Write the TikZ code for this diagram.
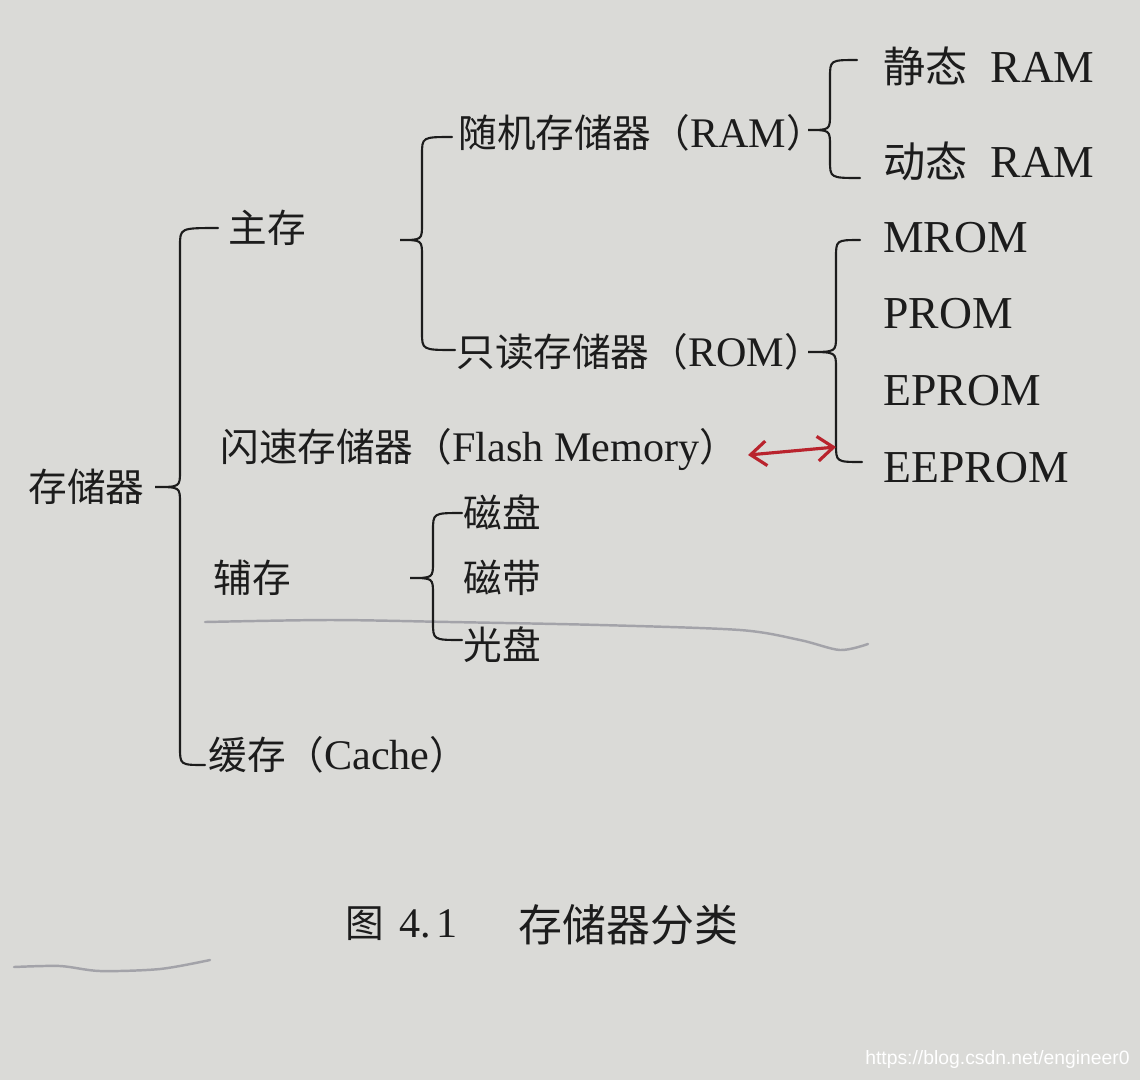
\documentclass[tikz,border=0pt]{standalone}
\usepackage{fontspec}
\setmainfont{Liberation Serif}
\newfontfamily\cjk{Noto Sans CJK SC}
\newfontfamily\wmfont{Liberation Sans}
\usetikzlibrary{arrows.meta}
\definecolor{paper}{RGB}{218,218,215}
\definecolor{ink}{RGB}{28,28,28}
\definecolor{redpen}{RGB}{185,35,45}
\definecolor{pencil}{RGB}{150,150,158}
\newcommand\zh[1]{{\cjk\fontsize{22}{24}\selectfont #1}}
\newcommand\zhb[1]{{\cjk\fontsize{24}{26}\selectfont #1}}
\newcommand\zhc[1]{{\cjk\fontsize{25}{27}\selectfont #1}}
% brace: spine x, tip x, tip y, end x (top), top y, end x (bottom), bottom y
\newcommand\mybrace[7]{%
  \draw[bracestyle] (#4,#5) .. controls (#1,#5) .. (#1,#5+18) -- (#1,#3-16)
    .. controls (#1,#3) .. (#2,#3) .. controls (#1,#3) .. (#1,#3+16)
    -- (#1,#7-18) .. controls (#1,#7) .. (#6,#7);}
\begin{document}
\begin{tikzpicture}[x=0.02cm,y=-0.02cm,
  lbl/.style={anchor=base west,inner sep=0pt,text=ink,font=\fontsize{24}{28}\selectfont},
  lblbig/.style={lbl,font=\fontsize{26}{30}\selectfont},
  bracestyle/.style={draw=ink,line width=1.2pt,line cap=round},
  pencilline/.style={draw=pencil,line width=1.4pt,line cap=round,opacity=0.8},
  redarrow/.style={draw=redpen,line width=1.8pt,{Straight Barb[length=9pt,width=14pt]}-{Straight Barb[length=9pt,width=14pt]}}]
\fill[paper] (0,0) rectangle (1140,1080);
\useasboundingbox (0,0) rectangle (1140,1080);

% pencil underlines
\draw[pencilline] plot[smooth] coordinates {(205,622) (330,620) (450,622) (600,625) (740,630) (800,640) (840,650) (868,644)};
\draw[pencilline] plot[smooth] coordinates {(14,967) (60,966) (100,971) (160,969) (210,960)};

% level 0
\node[lbl] (root) at (28,501) {\zh{存储器}};
% level 1
\node[lbl] (main) at (228,242) {\zh{主存}};
\node[lbl] (flash) at (220,461) {\zh{闪速存储器（}Flash Memory\zh{）}};
\node[lbl] (aux) at (213,592) {\zh{辅存}};
\node[lbl] (cache) at (208,769) {\zh{缓存（}Cache\zh{）}};
% level 2
\node[lbl] (ram) at (458,147) {\zh{随机存储器（}RAM\zh{）}};
\node[lbl] (rom) at (456,366) {\zh{只读存储器（}ROM\zh{）}};
\node[lbl] (disk) at (463,527) {\zh{磁盘}};
\node[lbl] (tape) at (463,592) {\zh{磁带}};
\node[lbl] (cd) at (463,659) {\zh{光盘}};
% level 3
\node[lblbig] (sram) at (883,82) {\zhb{静态}\hspace{13pt}RAM};
\node[lblbig] (dram) at (883,177) {\zhb{动态}\hspace{13pt}RAM};
\node[lblbig] (mrom) at (883,252) {MROM};
\node[lblbig] (prom) at (883,328) {PROM};
\node[lblbig] (eprom) at (883,405) {EPROM};
\node[lblbig] (eeprom) at (883,482) {EEPROM};

% braces
\mybrace{180}{155}{487}{218}{228}{205}{765}
\mybrace{422}{400}{240}{452}{137}{455}{350}
\mybrace{830}{808}{130}{857}{60}{860}{178}
\mybrace{836}{808}{352}{860}{240}{862}{462}
\mybrace{433}{410}{578}{462}{513}{462}{640}

% red hand-drawn arrow
\coordinate (ra) at (748,455);
\coordinate (rb) at (836,447);
\draw[redarrow] (ra) -- (rb);

% caption
\node[lbl] (figno) at (345,937) {\zh{图}\hspace{9pt}4.\hspace{3pt}1};
\node[lbl] (figtitle) at (518,941) {\zhc{存储器分类}};

% watermark
\node[anchor=base east,inner sep=0pt,text=white,font=\wmfont\fontsize{11}{13}\selectfont] (wm) at (1130,1064) {https://blog.csdn.net/engineer0};
\end{tikzpicture}
\end{document}
